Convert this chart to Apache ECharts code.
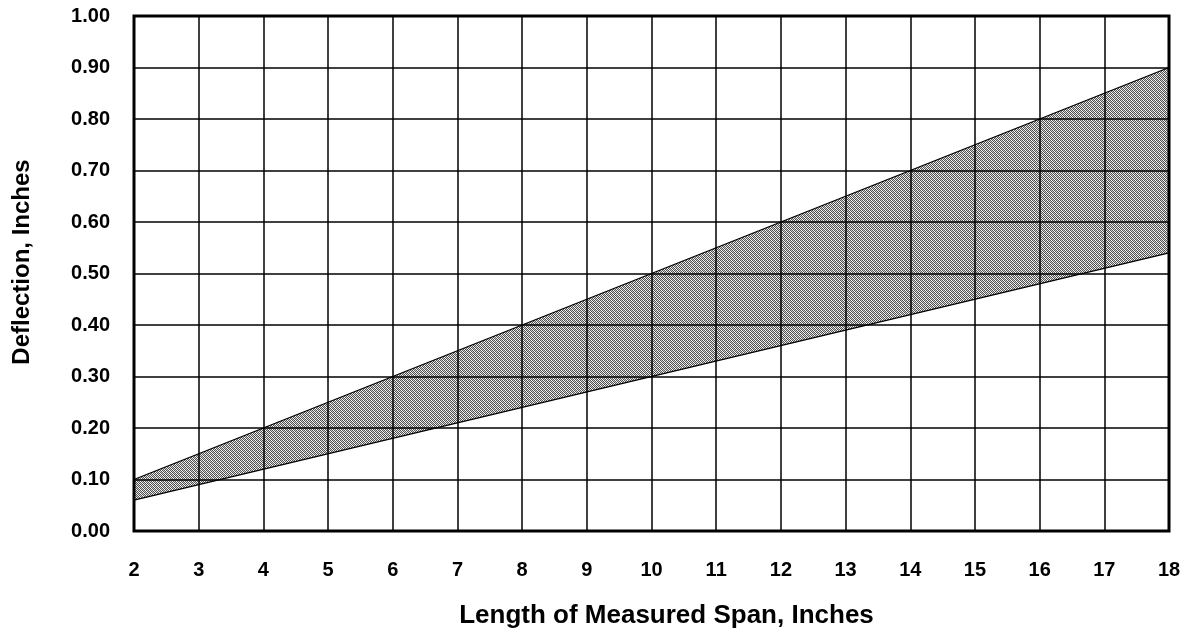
<!DOCTYPE html>
<html><head><meta charset="utf-8">
<script src="https://cdn.jsdelivr.net/npm/echarts@6/dist/echarts.min.js"></script>
<style>html,body{margin:0;padding:0;background:#fff}#c{width:1188px;height:634px}</style>
</head><body><div id="c"></div>
<script>
var spanInches = [2, 18];
var upperDeflection = [0.10, 0.90];
var lowerDeflection = [0.06, 0.54];
var xTicks = [2,3,4,5,6,7,8,9,10,11,12,13,14,15,16,17,18];
var yTicks = [0,0.1,0.2,0.3,0.4,0.5,0.6,0.7,0.8,0.9,1.0];

var pc = document.createElement('canvas');
pc.width = 4; pc.height = 4;
var g = pc.getContext('2d');
g.fillStyle = '#ffffff'; g.fillRect(0,0,4,4);
g.fillStyle = '#505050';
for (var i = 0; i < 4; i++) { g.fillRect(i, i, 1, 1); g.fillRect((i+2)%4, i, 1, 1); }
g.fillStyle = '#d0d0d0';
for (var i = 0; i < 4; i++) { g.fillRect((i+1)%4, i, 1, 1); }

var upperData = spanInches.map(function(x,i){return [x, upperDeflection[i]];});
var lowerData = spanInches.map(function(x,i){return [x, lowerDeflection[i]];});
var font = '"Liberation Sans", Arial, sans-serif';
var chart = echarts.init(document.getElementById('c'));
chart.setOption({
  animation: false,
  grid: {left: 134, right: 19, top: 16, bottom: 101, show: true, borderColor: '#000', borderWidth: 3, backgroundColor: 'transparent'},
  xAxis: {type: 'value', min: 2, max: 18, interval: 1,
    name: 'Length of Measured Span, Inches', nameLocation: 'middle', nameGap: 72,
    nameTextStyle: {fontFamily: font, fontWeight: 'bold', fontSize: 26, color: '#000', padding: [0,0,0,30]},
    axisLine: {show: false}, axisTick: {show: false},
    axisLabel: {fontFamily: font, fontWeight: 'bold', fontSize: 20, color: '#000', margin: 29},
    splitLine: {show: true, lineStyle: {color: '#000', width: 1.5}}},
  yAxis: {type: 'value', min: 0, max: 1, interval: 0.1,
    axisLine: {show: false}, axisTick: {show: false},
    axisLabel: {fontFamily: font, fontWeight: 'bold', fontSize: 20, color: '#000', margin: 24,
      formatter: function(v){return v.toFixed(2);}},
    splitLine: {show: true, lineStyle: {color: '#000', width: 1.5}}},
  graphic: [{type: 'text', x: 22, y: 262, rotation: Math.PI/2, z: 100,
    style: {text: 'Deflection, Inches', fontFamily: font, fontWeight: 'bold', fontSize: 24, fill: '#000',
      align: 'center', verticalAlign: 'middle'}}],
  series: [
    {type: 'custom', z: -1, silent: true, data: [0],
     renderItem: function(params, api){
       var pts = [];
       for (var i = 0; i < spanInches.length; i++) pts.push(api.coord([spanInches[i], upperDeflection[i]]));
       for (var j = spanInches.length - 1; j >= 0; j--) pts.push(api.coord([spanInches[j], lowerDeflection[j]]));
       return {type: 'polygon', shape: {points: pts}, style: {fill: {image: pc, repeat: 'repeat'}, stroke: null}};
     }},
    {type: 'line', data: upperData, symbol: 'none', lineStyle: {color: '#000', width: 1.3}, z: 3},
    {type: 'line', data: lowerData, symbol: 'none', lineStyle: {color: '#000', width: 1.3}, z: 3}
  ]
});
</script></body></html>
